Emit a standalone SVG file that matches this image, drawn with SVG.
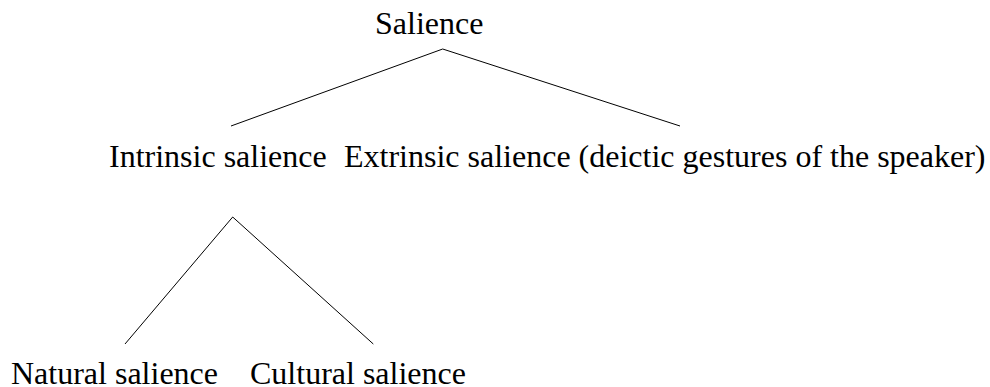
<svg xmlns="http://www.w3.org/2000/svg" width="990" height="387" viewBox="0 0 990 387">
<style>
text{font-family:"Liberation Serif","Times New Roman",serif;font-size:32px;fill:#000}
line{stroke:#000;stroke-width:1}
</style>
<rect width="990" height="387" fill="#fff"/>
<g id="connectors">
<line x1="442.7" y1="49" x2="231" y2="126"/>
<line x1="442.7" y1="49" x2="680" y2="126"/>
<line x1="232.7" y1="217" x2="125" y2="344"/>
<line x1="232.7" y1="217" x2="373.3" y2="344"/>
</g>
<g id="salience"><text x="375" y="34">Salience</text></g>
<g id="intrinsic"><text x="109" y="167">Intrinsic salience</text></g>
<g id="extrinsic"><text x="344" y="167">Extrinsic salience (deictic gestures of the speaker)</text></g>
<g id="natural"><text x="11" y="384">Natural salience</text></g>
<g id="cultural"><text x="250" y="384">Cultural salience</text></g>
</svg>
